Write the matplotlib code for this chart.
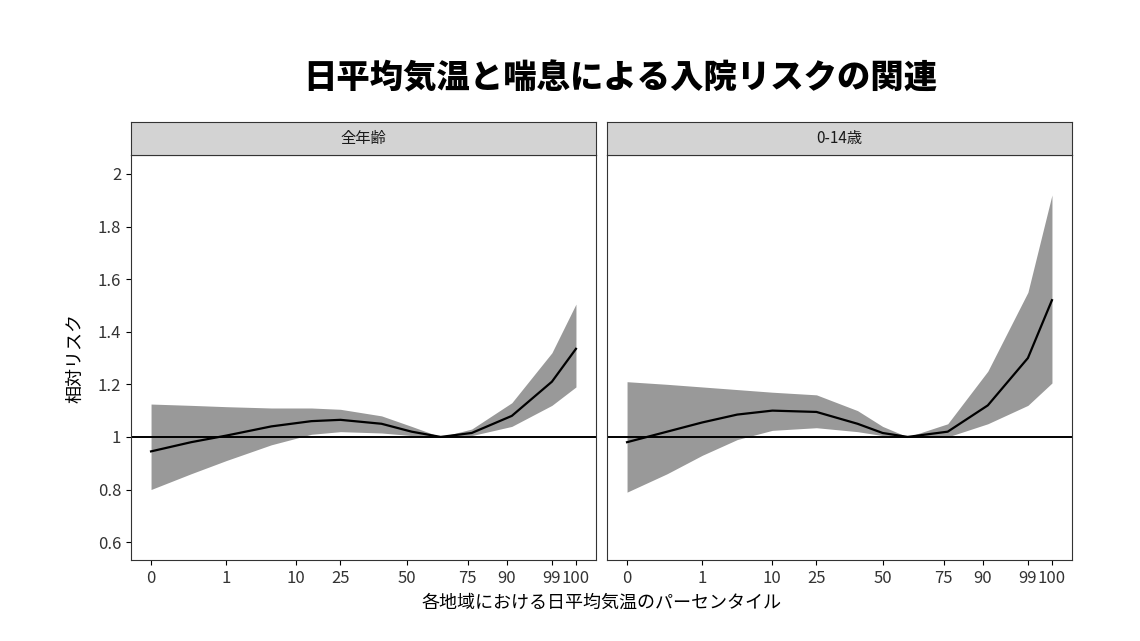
import matplotlib
matplotlib.use("Agg")
import matplotlib.pyplot as plt
from matplotlib.patches import Rectangle

plt.rcParams["font.family"] = "Noto Sans CJK JP"

title = "日平均気温と喘息による入院リスクの関連"
panels = ["全年齢", "0-14歳"]
tick_labels = ["0", "1", "10", "25", "50", "75", "90", "99", "100"]
tick_pos = [0, 75, 145, 189, 255, 316, 355, 400, 424]

x_all = [0, 40, 75, 120, 160, 189, 230, 260, 289, 320, 360, 400, 424]
est_all = [0.945, 0.98, 1.005, 1.04, 1.06, 1.065, 1.05, 1.02, 1.0, 1.015, 1.08, 1.21, 1.335]
up_all = [1.125, 1.12, 1.115, 1.11, 1.11, 1.105, 1.08, 1.04, 1.0, 1.03, 1.13, 1.32, 1.505]
lo_all = [0.80, 0.86, 0.91, 0.97, 1.01, 1.02, 1.015, 1.005, 1.0, 1.005, 1.04, 1.12, 1.19]

x_child = [0, 40, 75, 110, 145, 189, 230, 255, 280, 320, 360, 400, 424]
est_child = [0.98, 1.02, 1.055, 1.085, 1.10, 1.095, 1.05, 1.015, 1.0, 1.02, 1.12, 1.30, 1.52]
up_child = [1.21, 1.20, 1.19, 1.18, 1.17, 1.16, 1.10, 1.04, 1.0, 1.05, 1.25, 1.55, 1.92]
lo_child = [0.79, 0.86, 0.93, 0.99, 1.025, 1.035, 1.02, 1.005, 1.0, 1.0, 1.05, 1.12, 1.205]

yticks = [0.6, 0.8, 1, 1.2, 1.4, 1.6, 1.8, 2]

fig = plt.figure(figsize=(11.4, 6.41), dpi=100)
W, H = 1140, 641
data = [(x_all, est_all, up_all, lo_all), (x_child, est_child, up_child, lo_child)]
lefts = [131, 607]
for i, (x, e, u, l) in enumerate(data):
    L = lefts[i]
    ax = fig.add_axes([L / W, 1 - 560 / H, 465 / W, 405 / H])
    ax.fill_between(x, l, u, color="#999999", lw=0)
    ax.plot(x, e, color="black", lw=1.6)
    ax.axhline(1, color="black", lw=1.4)
    ax.set_xlim(-20, 444)
    ax.set_ylim(0.532, 2.072)
    ax.set_xticks(tick_pos)
    ax.set_xticklabels(tick_labels, fontsize=12, color="#333333")
    ax.set_yticks(yticks)
    ax.set_yticklabels([f"{v:g}" for v in yticks], fontsize=12, color="#333333")
    if i == 1:
        ax.tick_params(axis="y", labelleft=False, length=0)
    for s in ax.spines.values():
        s.set_color("#333333")
    sax = fig.add_axes([L / W, 1 - 155 / H, 465 / W, 33 / H])
    sax.set_xticks([]); sax.set_yticks([])
    sax.set_facecolor("#d3d3d3")
    for s in sax.spines.values():
        s.set_color("#333333")
    sax.text(0.5, 0.5, panels[i], ha="center", va="center", fontsize=11, color="#1a1a1a")

fig.text(620 / W, 1 - 78 / H, title, ha="center", va="center", fontsize=24, fontweight="black")
fig.text(75 / W, 1 - 358 / H, "相対リスク", rotation=90, ha="center", va="center", fontsize=13)
fig.text(601 / W, 1 - 603 / H, "各地域における日平均気温のパーセンタイル", ha="center", va="center", fontsize=13)
fig.savefig("out.png", dpi=100)
